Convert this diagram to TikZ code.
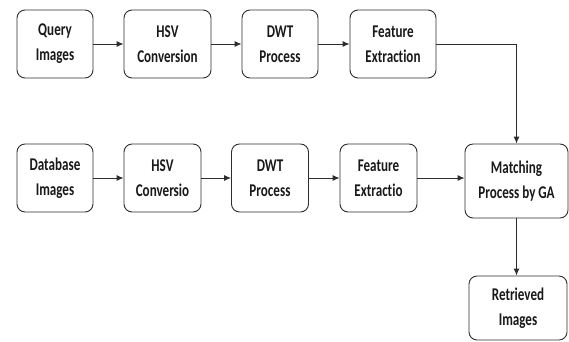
\documentclass[tikz,border=0pt]{standalone}
\usepackage{fontspec}
\setmainfont{Carlito}[FakeStretch=0.73, Ligatures=NoCommon]
\usepackage{tikz}
\usetikzlibrary{arrows.meta}
\definecolor{boxline}{RGB}{45, 45, 45}
\definecolor{boxtext}{RGB}{25, 25, 25}

\begin{document}
\begin{tikzpicture}[x=1bp, y=-1bp,
    stage/.style={draw=boxline, text=boxtext, line width=0.9bp, rounded corners=8bp, align=center,
      minimum height=68bp, inner sep=0pt, font=\fontsize{18}{25}\selectfont\bfseries},
    flow/.style={draw=boxline, line width=0.9bp, -{Latex[length=7bp, width=6bp]}}]
        \useasboundingbox (0, 0) rectangle (569, 341);

        % query row
        \node[stage, minimum width=76bp] (query) at (55, 44) {Query\\Images};
        \node[stage, minimum width=87bp] (hsvq) at (167.5, 44) {HSV\\Conversion};
        \node[stage, minimum width=76bp] (dwtq) at (280, 44) {DWT\\Process};
        \node[stage, minimum width=86bp] (featq) at (393, 44) {Feature\\Extraction};

        % database row
        \node[stage, minimum width=76bp] (dbase) at (55, 178) {Database\\Images};
        \node[stage, minimum width=77bp] (hsvd) at (162.5, 178) {HSV\\Conversio};
        \node[stage, minimum width=77bp] (dwtd) at (270, 178) {DWT\\Process};
        \node[stage, minimum width=77bp] (featd) at (378.5, 178) {Feature\\Extractio};

        % matching and result
        \node[stage, minimum width=103bp, minimum height=74bp] (match) at (516.5, 181) {Matching\\Process by GA};
        \node[stage, minimum width=98bp, minimum height=64bp] (result) at (518, 308) {Retrieved\\Images};

        % arrows
        \draw[flow] (query) -- (hsvq);
        \draw[flow] (hsvq) -- (dwtq);
        \draw[flow] (dwtq) -- (featq);
        \draw[flow] (featq.east) -| (match.north);
        \draw[flow] (dbase) -- (hsvd);
        \draw[flow] (hsvd) -- (dwtd);
        \draw[flow] (dwtd) -- (featd);
        \draw[flow] (featd.east) -- (featd.east -| match.west);
        \draw[flow] (match.south) -- (match.south |- result.north);

    \end{tikzpicture}
\end{document}
